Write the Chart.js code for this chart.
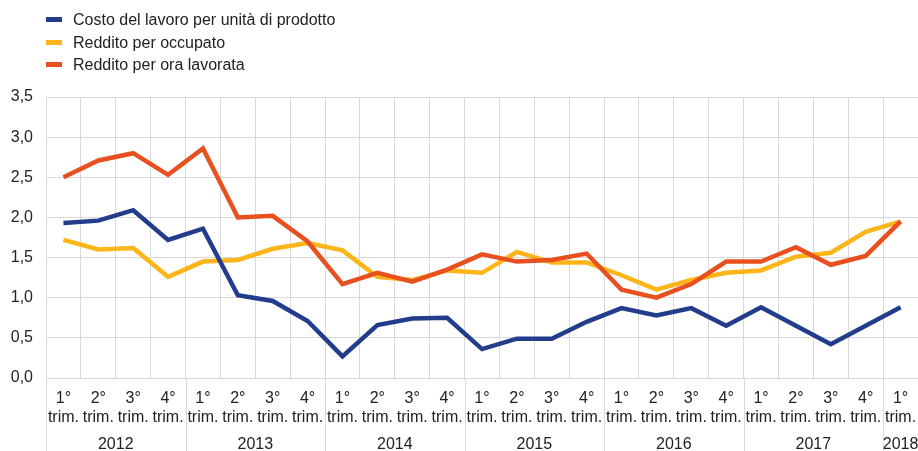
<!DOCTYPE html>
<html>
<head>
<meta charset="utf-8">
<script src="https://cdn.jsdelivr.net/npm/chart.js@4.4.1/dist/chart.umd.min.js"></script>
<style>
  body { margin: 0; background: #fff; font-family: "Liberation Sans", Arial, sans-serif; }
  #wrap { position: relative; width: 918px; height: 451px; overflow: hidden; }
  #myChart { position: absolute; left: 0; top: 0; }
  #legend { position: absolute; left: 46px; top: 9px; font-size: 16px; color: #222; }
  #legend div { height: 22.5px; line-height: 22.5px; white-space: nowrap; }
  #legend span.sw { display: inline-block; width: 16px; height: 5px; margin-right: 11px; vertical-align: middle; position: relative; top: -1px; }
</style>
</head>
<body>
<div id="wrap">
  <canvas id="myChart" width="918" height="451"></canvas>
  <div id="legend"></div>
</div>
<script>
const quarterLabels = [
    ['1°', 'trim.'], ['2°', 'trim.'], ['3°', 'trim.'], ['4°', 'trim.'],
    ['1°', 'trim.'], ['2°', 'trim.'], ['3°', 'trim.'], ['4°', 'trim.'],
    ['1°', 'trim.'], ['2°', 'trim.'], ['3°', 'trim.'], ['4°', 'trim.'],
    ['1°', 'trim.'], ['2°', 'trim.'], ['3°', 'trim.'], ['4°', 'trim.'],
    ['1°', 'trim.'], ['2°', 'trim.'], ['3°', 'trim.'], ['4°', 'trim.'],
    ['1°', 'trim.'], ['2°', 'trim.'], ['3°', 'trim.'], ['4°', 'trim.'],
    ['1°', 'trim.']
];
const years = ['2012', '2013', '2014', '2015', '2016', '2017', '2018'];
const quartersPerYear = [4, 4, 4, 4, 4, 4, 1];

const costoLavoro = [1.93, 1.96, 2.09, 1.72, 1.86, 1.03, 0.96, 0.71,
                     0.27, 0.66, 0.74, 0.75, 0.36, 0.49, 0.49, 0.70,
                     0.87, 0.78, 0.87, 0.65, 0.88, 0.65, 0.42, 0.65, 0.88];
const redditoOccupato = [1.72, 1.60, 1.62, 1.26, 1.45, 1.47, 1.61, 1.68,
                         1.59, 1.26, 1.22, 1.34, 1.31, 1.57, 1.44, 1.44,
                         1.28, 1.10, 1.22, 1.31, 1.34, 1.51, 1.56, 1.82, 1.95];
const redditoOra = [2.50, 2.71, 2.80, 2.53, 2.86, 2.00, 2.02, 1.70,
                    1.17, 1.31, 1.20, 1.35, 1.54, 1.45, 1.47, 1.55,
                    1.10, 1.00, 1.17, 1.45, 1.45, 1.63, 1.41, 1.52, 1.95];

const gridColor = '#d9d9d9';
const textColor = '#222';
const fontFamily = '"Liberation Sans", Arial, sans-serif';

// year labels and separators below the quarter ticks
const yearAxis = {
    id: 'yearAxis',
    afterDraw(chart) {
        const ctx = chart.ctx;
        const xs = chart.scales.x;
        const area = chart.chartArea;
        const half = (xs.getPixelForValue(1) - xs.getPixelForValue(0)) / 2;
        ctx.save();
        ctx.strokeStyle = gridColor;
        ctx.lineWidth = 1;
        ctx.fillStyle = textColor;
        ctx.font = '16px ' + fontFamily;
        ctx.textAlign = 'center';
        ctx.textBaseline = 'middle';
        let idx = 0;
        years.forEach((y, i) => {
            const left = xs.getPixelForValue(idx) - half;
            const right = xs.getPixelForValue(idx + quartersPerYear[i] - 1) + half;
            const lx = Math.round(left) + 0.5;
            ctx.beginPath();
            ctx.moveTo(lx, area.bottom);
            ctx.lineTo(lx, chart.height);
            ctx.stroke();
            ctx.fillText(y, (left + right) / 2, area.bottom + 67);
            idx += quartersPerYear[i];
        });
        ctx.restore();
    }
};

const ctx = document.getElementById('myChart').getContext('2d');
const chart = new Chart(ctx, {
    type: 'line',
    data: {
        labels: quarterLabels,
        datasets: [
            { label: 'Costo del lavoro per unità di prodotto', data: costoLavoro, borderColor: '#233d8c', backgroundColor: '#233d8c', order: 1 },
            { label: 'Reddito per occupato', data: redditoOccupato, borderColor: '#fdb51a', backgroundColor: '#fdb51a', order: 2 },
            { label: 'Reddito per ora lavorata', data: redditoOra, borderColor: '#e8501f', backgroundColor: '#e8501f', order: 0 }
        ]
    },
    options: {
        responsive: false,
        animation: false,
        layout: { padding: { top: 97, left: 11, right: 0, bottom: 24 } },
        elements: {
            line: { borderWidth: 4.5, tension: 0 },
            point: { radius: 0 }
        },
        plugins: {
            legend: { display: false },
            tooltip: { enabled: false }
        },
        scales: {
            x: {
                offset: true,
                grid: { color: gridColor, offset: true, drawTicks: false },
                border: { color: gridColor },
                ticks: {
                    color: textColor,
                    padding: 11,
                    maxRotation: 0,
                    autoSkip: false,
                    font: { family: fontFamily, size: 16, lineHeight: 1.2 }
                },
                afterFit: s => { s.height = 49; s.paddingLeft = 0; s.paddingRight = 0; }
            },
            y: {
                min: 0,
                max: 3.5,
                grid: { color: gridColor, drawTicks: false },
                border: { color: gridColor },
                ticks: {
                    stepSize: 0.5,
                    color: textColor,
                    padding: 13,
                    font: { family: fontFamily, size: 16 },
                    callback: v => v.toFixed(1).replace('.', ',')
                },
                afterFit: s => { s.width = 35; s.paddingTop = 0; s.paddingBottom = 0; }
            }
        }
    },
    plugins: [yearAxis]
});

const legend = document.getElementById('legend');
chart.data.datasets.forEach(ds => {
    const row = document.createElement('div');
    const sw = document.createElement('span');
    sw.className = 'sw';
    sw.style.background = ds.borderColor;
    row.appendChild(sw);
    row.appendChild(document.createTextNode(ds.label));
    legend.appendChild(row);
});
</script>
</body>
</html>
